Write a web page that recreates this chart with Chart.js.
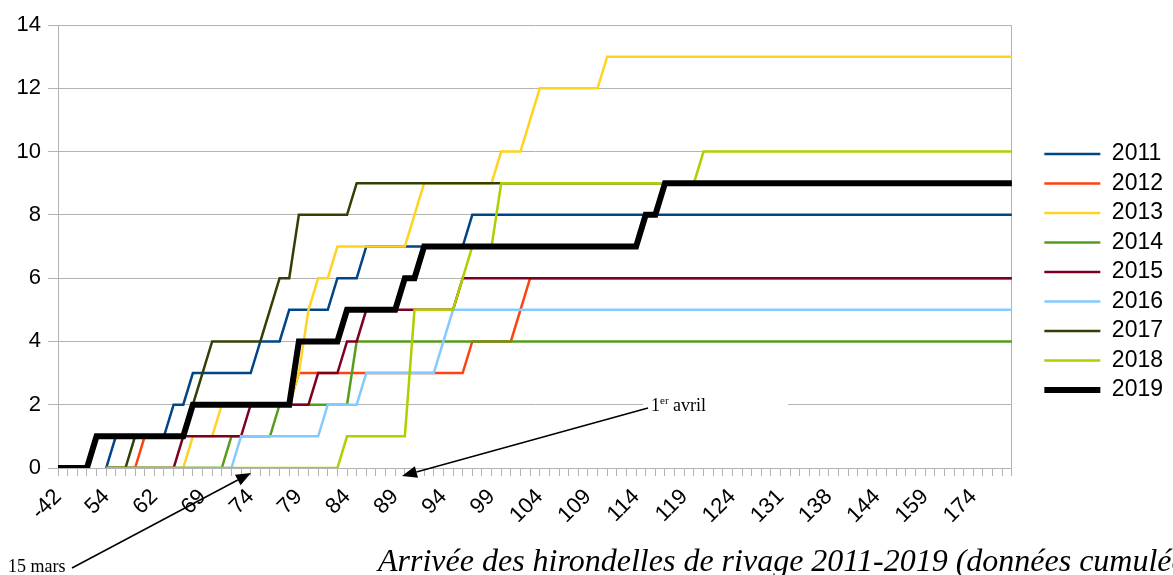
<!DOCTYPE html>
<html>
<head>
<meta charset="utf-8">
<title>Arrivée des hirondelles de rivage 2011-2019</title>
<script src="https://cdn.jsdelivr.net/npm/chart.js@4.4.1/dist/chart.umd.min.js"></script>
<style>
  html, body { margin: 0; padding: 0; background: #fff; overflow: hidden; }
</style>
</head>
<body>
<canvas id="swallowChart" width="1173" height="575"></canvas>
<script>
// Jours de l'année (catégories de l'axe X) - seul un sur cinq est affiché
const days = [
  "-42", "47", "50", "51", "53", "54", "56", "58", "59", "61",
  "62", "63", "65", "66", "68", "69", "70", "71", "72", "73",
  "74", "75", "76", "77", "78", "79", "80", "81", "82", "83",
  "84", "85", "86", "87", "88", "89", "90", "91", "92", "93",
  "94", "95", "96", "97", "98", "99", "100", "101", "102", "103",
  "104", "105", "106", "107", "108", "109", "110", "111", "112", "113",
  "114", "115", "116", "117", "118", "119", "120", "121", "122", "123",
  "124", "125", "127", "128", "130", "131", "132", "134", "135", "137",
  "138", "139", "140", "142", "143", "144", "147", "150", "153", "156",
  "159", "162", "165", "168", "171", "174", "177", "180", "185", "190"
];

// Nombre cumulé d'hirondelles observées, par année
const y2011 = [
  null, null, null, null, null, 0, 1, 1, 1, 1, 1, 1, 2, 2, 3, 3, 3, 3, 3, 3,
  3, 4, 4, 4, 5, 5, 5, 5, 5, 6, 6, 6, 7, 7, 7, 7, 7, 7, 7, 7,
  7, 7, 7, 8, 8, 8, 8, 8, 8, 8, 8, 8, 8, 8, 8, 8, 8, 8, 8, 8,
  8, 8, 8, 8, 8, 8, 8, 8, 8, 8, 8, 8, 8, 8, 8, 8, 8, 8, 8, 8,
  8, 8, 8, 8, 8, 8, 8, 8, 8, 8, 8, 8, 8, 8, 8, 8, 8, 8, 8, 8
];
const y2012 = [
  null, null, null, null, null, 0, 0, 0, 0, 1, 1, 1, 1, 1, 2, 2, 2, 2, 2, 2,
  2, 2, 2, 2, 2, 3, 3, 3, 3, 3, 3, 3, 3, 3, 3, 3, 3, 3, 3, 3,
  3, 3, 3, 4, 4, 4, 4, 4, 5, 6, 6, 6, 6, 6, 6, 6, 6, 6, 6, 6,
  6, 6, 6, 6, 6, 6, 6, 6, 6, 6, 6, 6, 6, 6, 6, 6, 6, 6, 6, 6,
  6, 6, 6, 6, 6, 6, 6, 6, 6, 6, 6, 6, 6, 6, 6, 6, 6, 6, 6, 6
];
const y2013 = [
  null, null, null, null, null, 0, 0, 0, 0, 0, 0, 0, 0, 0, 1, 1, 1, 2, 2, 2,
  2, 2, 2, 2, 2, 3, 5, 6, 6, 7, 7, 7, 7, 7, 7, 7, 7, 8, 9, 9,
  9, 9, 9, 9, 9, 9, 10, 10, 10, 11, 12, 12, 12, 12, 12, 12, 12, 13, 13, 13,
  13, 13, 13, 13, 13, 13, 13, 13, 13, 13, 13, 13, 13, 13, 13, 13, 13, 13, 13, 13,
  13, 13, 13, 13, 13, 13, 13, 13, 13, 13, 13, 13, 13, 13, 13, 13, 13, 13, 13, 13
];
const y2014 = [
  null, null, null, null, null, 0, 0, 0, 0, 0, 0, 0, 0, 0, 0, 0, 0, 0, 1, 1,
  1, 1, 1, 2, 2, 2, 2, 2, 2, 2, 2, 4, 4, 4, 4, 4, 4, 4, 4, 4,
  4, 4, 4, 4, 4, 4, 4, 4, 4, 4, 4, 4, 4, 4, 4, 4, 4, 4, 4, 4,
  4, 4, 4, 4, 4, 4, 4, 4, 4, 4, 4, 4, 4, 4, 4, 4, 4, 4, 4, 4,
  4, 4, 4, 4, 4, 4, 4, 4, 4, 4, 4, 4, 4, 4, 4, 4, 4, 4, 4, 4
];
const y2015 = [
  null, null, null, null, null, 0, 0, 0, 0, 0, 0, 0, 0, 1, 1, 1, 1, 1, 1, 1,
  2, 2, 2, 2, 2, 2, 2, 3, 3, 3, 4, 4, 5, 5, 5, 5, 5, 5, 5, 5,
  5, 5, 6, 6, 6, 6, 6, 6, 6, 6, 6, 6, 6, 6, 6, 6, 6, 6, 6, 6,
  6, 6, 6, 6, 6, 6, 6, 6, 6, 6, 6, 6, 6, 6, 6, 6, 6, 6, 6, 6,
  6, 6, 6, 6, 6, 6, 6, 6, 6, 6, 6, 6, 6, 6, 6, 6, 6, 6, 6, 6
];
const y2016 = [
  null, null, null, null, null, 0, 0, 0, 0, 0, 0, 0, 0, 0, 0, 0, 0, 0, 0, 1,
  1, 1, 1, 1, 1, 1, 1, 1, 2, 2, 2, 2, 3, 3, 3, 3, 3, 3, 3, 3,
  4, 5, 5, 5, 5, 5, 5, 5, 5, 5, 5, 5, 5, 5, 5, 5, 5, 5, 5, 5,
  5, 5, 5, 5, 5, 5, 5, 5, 5, 5, 5, 5, 5, 5, 5, 5, 5, 5, 5, 5,
  5, 5, 5, 5, 5, 5, 5, 5, 5, 5, 5, 5, 5, 5, 5, 5, 5, 5, 5, 5
];
const y2017 = [
  null, null, null, null, null, 0, 0, 0, 1, 1, 1, 1, 1, 1, 2, 3, 4, 4, 4, 4,
  4, 4, 5, 6, 6, 8, 8, 8, 8, 8, 8, 9, 9, 9, 9, 9, 9, 9, 9, 9,
  9, 9, 9, 9, 9, 9, 9, 9, 9, 9, 9, 9, 9, 9, 9, 9, 9, 9, 9, 9,
  9, 9, 9, 9, 9, 9, 9, 9, 9, 9, 9, 9, 9, 9, 9, 9, 9, 9, 9, 9,
  9, 9, 9, 9, 9, 9, 9, 9, 9, 9, 9, 9, 9, 9, 9, 9, 9, 9, 9, 9
];
const y2018 = [
  null, null, null, null, null, 0, 0, 0, 0, 0, 0, 0, 0, 0, 0, 0, 0, 0, 0, 0,
  0, 0, 0, 0, 0, 0, 0, 0, 0, 0, 1, 1, 1, 1, 1, 1, 1, 5, 5, 5,
  5, 5, 6, 7, 7, 7, 9, 9, 9, 9, 9, 9, 9, 9, 9, 9, 9, 9, 9, 9,
  9, 9, 9, 9, 9, 9, 9, 10, 10, 10, 10, 10, 10, 10, 10, 10, 10, 10, 10, 10,
  10, 10, 10, 10, 10, 10, 10, 10, 10, 10, 10, 10, 10, 10, 10, 10, 10, 10, 10, 10
];
const y2019 = [
  0, 0, 0, 0, 1, 1, 1, 1, 1, 1, 1, 1, 1, 1, 2, 2, 2, 2, 2, 2,
  2, 2, 2, 2, 2, 4, 4, 4, 4, 4, 5, 5, 5, 5, 5, 5, 6, 6, 7, 7,
  7, 7, 7, 7, 7, 7, 7, 7, 7, 7, 7, 7, 7, 7, 7, 7, 7, 7, 7, 7,
  7, 8, 8, 9, 9, 9, 9, 9, 9, 9, 9, 9, 9, 9, 9, 9, 9, 9, 9, 9,
  9, 9, 9, 9, 9, 9, 9, 9, 9, 9, 9, 9, 9, 9, 9, 9, 9, 9, 9, 9
];

const years = ["2011", "2012", "2013", "2014", "2015", "2016", "2017", "2018", "2019"];
const series = [y2011, y2012, y2013, y2014, y2015, y2016, y2017, y2018, y2019];
const colors = ["#004586", "#ff420e", "#ffd320", "#579d1c", "#7e0021", "#83caff", "#314004", "#aecf00", "#000000"];

const tickFont = { family: "'Liberation Sans', Arial, sans-serif", size: 22 };
const legendFont = { family: "'Liberation Sans', Arial, sans-serif", size: 23 };
const serif = "'Liberation Serif', 'Times New Roman', serif";

// the later years are drawn on top, like in the original
const datasets = years.map((year, i) => {
  const w = year === "2019" ? 6 : 2.5;
  return {
    label: year,
    data: series[i],
    borderColor: colors[i],
    backgroundColor: colors[i],
    pointBorderColor: colors[i],
    pointBorderWidth: w,
    borderWidth: w,
    pointRadius: 0,
    pointHoverRadius: 0,
    fill: false,
    tension: 0,
    order: years.length - 1 - i
  };
});

const drawArrow = (ctx, x1, y1, x2, y2) => {
  const a = Math.atan2(y2 - y1, x2 - x1);
  const len = 15, half = 6;
  const bx = x2 - len * Math.cos(a), by = y2 - len * Math.sin(a);
  ctx.beginPath();
  ctx.moveTo(x1, y1);
  ctx.lineTo(bx, by);
  ctx.stroke();
  ctx.beginPath();
  ctx.moveTo(x2, y2);
  ctx.lineTo(bx + half * Math.sin(a), by - half * Math.cos(a));
  ctx.lineTo(bx - half * Math.sin(a), by + half * Math.cos(a));
  ctx.closePath();
  ctx.fill();
};

// notes, arrows and caption
const notesPlugin = {
  id: "notes",
  afterDraw(chart) {
    const ctx = chart.ctx;
    ctx.save();
    ctx.fillStyle = "#fff";
    ctx.fillRect(643, 396, 145, 18);

    ctx.fillStyle = "#000";
    ctx.strokeStyle = "#000";
    ctx.lineWidth = 1.5;
    drawArrow(ctx, 72, 568, 251, 473);
    drawArrow(ctx, 648, 408, 402, 476);

    ctx.textAlign = "left";
    ctx.textBaseline = "alphabetic";
    ctx.font = "18px " + serif;
    ctx.fillText("15 mars", 8, 572);

    ctx.fillText("1", 651, 411);
    let x = 651 + ctx.measureText("1").width;
    ctx.font = "11px " + serif;
    ctx.fillText("er", x, 404);
    x += ctx.measureText("er").width;
    ctx.font = "18px " + serif;
    ctx.fillText(" avril", x, 411);

    ctx.font = "italic 32px " + serif;
    ctx.fillText("Arrivée des hirondelles de rivage 2011-2019 (données cumulées)", 378, 571);
    ctx.restore();
  }
};

new Chart(document.getElementById("swallowChart"), {
  type: "line",
  data: { labels: days, datasets: datasets },
  plugins: [notesPlugin],
  options: {
    responsive: false,
    animation: false,
    events: [],
    layout: { padding: { top: 25, right: 0, bottom: 0, left: 0 } },
    plugins: {
      tooltip: { enabled: false },
      legend: {
        position: "right",
        align: "start",
        title: { display: true, text: "", padding: { top: 99, bottom: 0 }, font: { size: 10 } },
        labels: {
          usePointStyle: true,
          pointStyle: "line",
          pointStyleWidth: 56,
          padding: 6.5,
          color: "#000",
          font: legendFont,
          sort: (a, b) => a.datasetIndex - b.datasetIndex
        }
      }
    },
    scales: {
      x: {
        grid: { drawOnChartArea: false, drawTicks: true, tickLength: 8, color: "#b3b3b3" },
        border: { color: "#b3b3b3" },
        ticks: {
          autoSkip: false,
          minRotation: 45,
          maxRotation: 45,
          padding: 8,
          color: "#000",
          font: tickFont,
          callback: function (value, index) {
            return index % 5 === 0 ? this.getLabelForValue(value) : "";
          }
        },
        afterFit: (scale) => { scale.height = 107; }
      },
      y: {
        min: 0,
        max: 14,
        ticks: { stepSize: 2, padding: 7, color: "#000", font: tickFont },
        grid: { color: "#b3b3b3", tickLength: 10 },
        border: { color: "#b3b3b3" },
        afterFit: (scale) => { scale.width = 58; }
      },
      yRight: {
        position: "right",
        min: 0,
        max: 14,
        ticks: { display: false },
        grid: { drawOnChartArea: false, drawTicks: false },
        border: { color: "#b3b3b3" },
        afterFit: (scale) => { scale.width = 26; }
      }
    }
  }
});
</script>
</body>
</html>
